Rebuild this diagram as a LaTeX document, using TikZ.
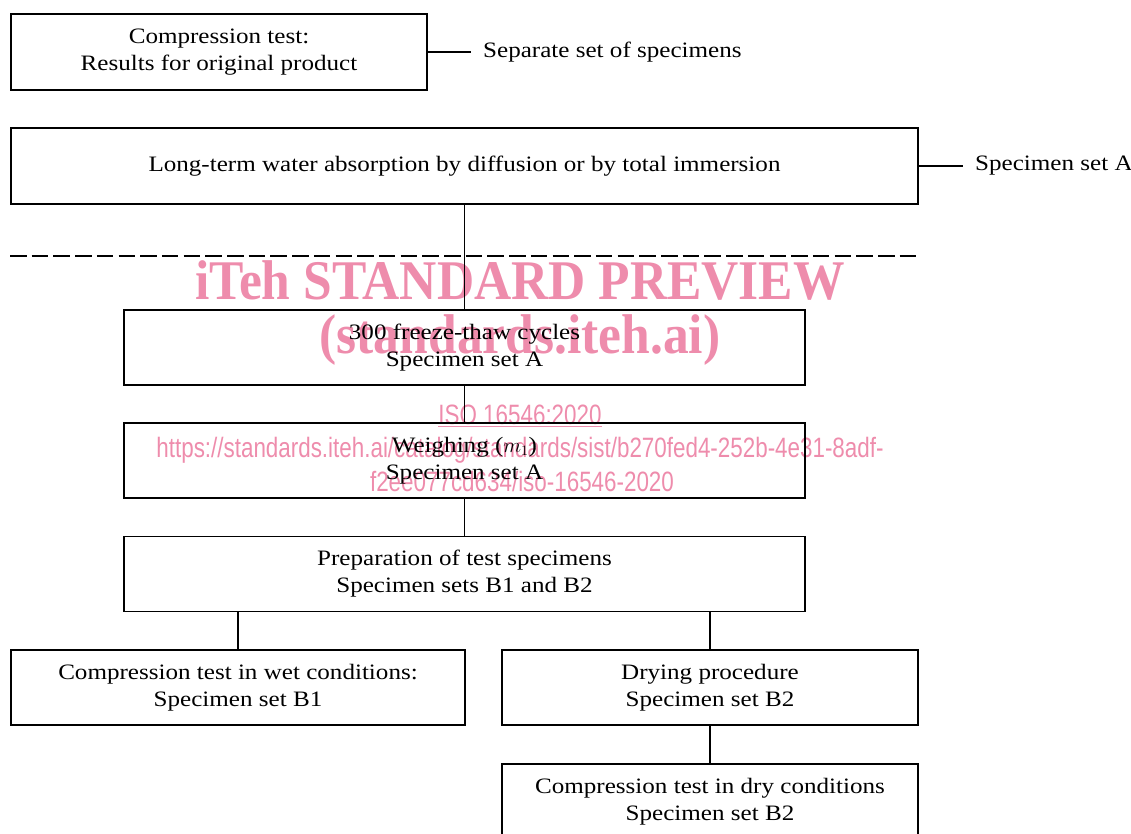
\documentclass[tikz,border=0pt]{standalone}
\usepackage{fontspec}
\setmainfont{Liberation Serif}[FakeStretch=1.14]
\newfontfamily\wmserif{Liberation Serif}[FakeStretch=0.92]
\newfontfamily\wmsans{Liberation Sans}[FakeStretch=0.8]

\definecolor{wmpink}{RGB}{238,140,172}

\begin{document}
\begin{tikzpicture}[%
        x = 1pt,
        y = -1pt,
        box/.style = {draw, line width = 1.6pt, align = center,
            inner sep = 0pt, font = \fontsize{22}{27}\selectfont},
        link/.style = {line width = 1.1pt},
        side/.style = {anchor = west, inner xsep = 12pt,
            font = \fontsize{22}{27}\selectfont},
        wmark/.style = {text = wmpink, inner sep = 0pt}
    ]
        % Page size, the last box runs off the bottom.
        \useasboundingbox (0, 0) rectangle (1131, 833);
        \clip (0, 0) rectangle (1131, 833);

        % Watermark, under the diagram.
        \node[wmark, font = \wmserif\bfseries\fontsize{56}{56}\selectfont]
            (WM_Title) at (520, 280) {iTeh STANDARD PREVIEW};
        \node[wmark, font = \wmserif\bfseries\fontsize{56}{56}\selectfont]
            (WM_Site) at (520, 340) {(standards.iteh.ai)};
        \node[wmark, font = \wmsans\fontsize{28}{28}\selectfont]
            (WM_Std) at (520, 416) {\underline{ISO 16546:2020}};
        \node[wmark, font = \wmsans\fontsize{28}{28}\selectfont]
            (WM_Url) at (520, 450)
            {https://standards.iteh.ai/catalog/standards/sist/b270fed4-252b-4e31-8adf-};
        \node[wmark, font = \wmsans\fontsize{28}{28}\selectfont]
            (WM_Url_End) at (522, 481) {f2ee077cd634/iso-16546-2020};

        % Boxes of the procedure.
        \node[box, minimum width = 416pt, minimum height = 76pt]
            (Original) at (219, 52) {Compression test:\\Results for original product};
        \node[box, minimum width = 907pt, minimum height = 76pt]
            (Absorption) at (464.5, 166)
            {Long-term water absorption by diffusion or by total immersion};
        \node[box, minimum width = 681pt, minimum height = 75pt]
            (Freeze) at (464.5, 347.5) {300 freeze-thaw cycles\\Specimen set A};
        \node[box, minimum width = 681pt, minimum height = 75pt]
            (Weighing) at (464.5, 460.5) {Weighing ($m_1$)\\Specimen set A};
        \node[box, minimum width = 681pt, minimum height = 75pt]
            (Preparation) at (464.5, 574)
            {Preparation of test specimens\\Specimen sets B1 and B2};
        \node[box, minimum width = 454pt, minimum height = 75pt]
            (Wet) at (238, 687.5)
            {Compression test in wet conditions:\\Specimen set B1};
        \node[box, minimum width = 416pt, minimum height = 75pt]
            (Drying) at (710, 687.5) {Drying procedure\\Specimen set B2};
        \node[box, minimum width = 416pt, minimum height = 76pt]
            (Dry) at (710, 802)
            {Compression test in dry conditions\\Specimen set B2};

        % Side labels.
        \node[side] (Separate) at (471, 52) {Separate set of specimens};
        \node[side] (Set_A) at (963, 166) {Specimen set A};
        \draw[link] (Original.east) to (Separate.west);
        \draw[link] (Absorption.east) to (Set_A.west);

        % Dashed separation line.
        \coordinate (Dash_Left) at (10, 256);
        \coordinate (Dash_Right) at (920, 256);
        \draw[line width = 1.6pt, dash pattern = on 16.5pt off 5.2pt]
            (Dash_Left) to (Dash_Right);

        % Connectors down the chain.
        \draw[link] (Absorption.south) to (Freeze.north);
        \draw[link] (Freeze.south) to (Weighing.north);
        \draw[link] (Weighing.south) to (Preparation.north);
        \draw[link] (Wet.north) to (Wet.north |- Preparation.south);
        \draw[link] (Drying.north) to (Drying.north |- Preparation.south);
        \draw[link] (Drying.south) to (Dry.north);
    \end{tikzpicture}
\end{document}
